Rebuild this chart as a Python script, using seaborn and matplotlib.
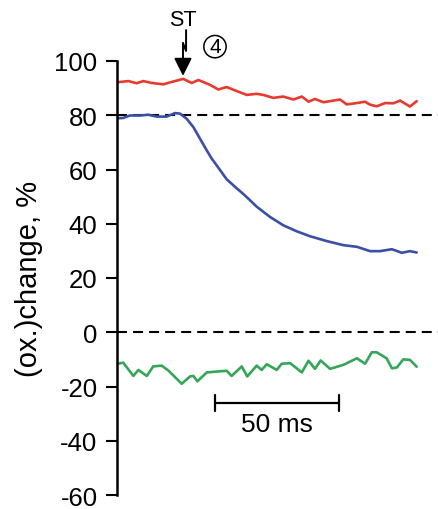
import numpy as np
import pandas as pd
import matplotlib
matplotlib.use("Agg")
import matplotlib.pyplot as plt
import seaborn as sns

# --- data (time in ms, value in %) ---
red_time = [0.5, 4.6, 7.9, 10.6, 14.0, 18.7, 22.1, 26.7, 30.1, 32.8, 37.5, 40.8,
            44.2, 48.3, 52.3, 56.3, 59.0, 63.0, 67.0, 71.1, 74.5, 77.2, 79.8, 83.2,
            89.9, 92.6, 96.7, 100.0, 102.0, 104.7, 108.1, 111.4, 114.1, 118.1, 120.8]
red_value = [92.2, 92.6, 91.8, 92.6, 91.9, 91.4, 92.3, 93.4, 91.9, 93.0, 91.2, 89.5,
             90.4, 88.9, 87.5, 87.9, 87.5, 86.4, 86.9, 85.8, 86.9, 85.0, 86.0, 84.8,
             85.8, 84.0, 84.5, 85.0, 83.9, 83.3, 84.5, 84.4, 85.4, 83.2, 85.2]

blue_time = [0.5, 2.5, 5.2, 9.3, 12.6, 16.0, 20.0, 23.4, 25.4, 28.1, 30.8, 33.5,
             36.2, 38.2, 40.2, 44.2, 47.6, 51.0, 53.0, 56.3, 61.7, 67.1, 72.5, 77.8,
             84.6, 91.3, 96.7, 102.0, 106.0, 110.8, 114.8, 118.1, 120.8]
blue_value = [78.9, 79.0, 79.9, 79.9, 80.2, 79.5, 79.5, 80.8, 80.6, 78.7, 75.6, 71.3,
              67.0, 64.0, 61.5, 56.4, 53.6, 50.9, 49.2, 46.3, 42.5, 39.4, 37.2, 35.4,
              33.6, 32.1, 31.5, 29.9, 29.9, 30.6, 29.3, 29.9, 29.4]

green_time = [0.5, 2.5, 6.6, 8.6, 12.0, 14.6, 18.0, 20.7, 26.1, 29.4, 30.8, 32.4,
              36.2, 44.2, 46.2, 50.3, 52.5, 56.3, 58.3, 60.4, 64.4, 66.4, 69.8, 74.5,
              77.2, 79.8, 82.1, 85.9, 91.3, 96.7, 100.0, 102.7, 104.7, 108.7, 110.8,
              112.8, 115.4, 118.1, 120.8]
green_value = [-11.6, -11.2, -16.1, -13.9, -16.1, -12.6, -12.3, -14.1, -19.0, -16.3,
               -16.1, -18.1, -14.8, -14.2, -16.1, -12.6, -16.3, -12.3, -13.9, -11.8,
               -13.9, -11.6, -11.4, -14.8, -10.5, -13.5, -10.4, -13.5, -12.0, -9.6,
               -11.6, -7.4, -7.4, -9.6, -13.3, -13.0, -10.0, -10.2, -12.7]

ref_levels = [80, 0]
y_ticks = [-60, -40, -20, 0, 20, 40, 60, 80, 100]
stim_time = 26.6
scale_start = 39.5
scale_len = 50

colors = {"red": "#e63b2e", "blue": "#3c4fa6", "green": "#35a559"}

sns.set_theme(style="ticks")
plt.rcParams["font.family"] = ["Liberation Sans", "DejaVu Sans"]
plt.rcParams["axes.unicode_minus"] = False
plt.rcParams["text.color"] = "black"
plt.rcParams["ytick.color"] = "black"
plt.rcParams["ytick.labelcolor"] = "black"
plt.rcParams["axes.labelcolor"] = "black"

df = pd.concat([
    pd.DataFrame({"t": red_time, "v": red_value, "trace": "red"}),
    pd.DataFrame({"t": blue_time, "v": blue_value, "trace": "blue"}),
    pd.DataFrame({"t": green_time, "v": green_value, "trace": "green"}),
])

fig = plt.figure(figsize=(4.38, 5.10), dpi=100)
ax = fig.add_axes([117 / 438, 14 / 510, 321 / 438, 434 / 510])

for lvl in ref_levels:
    ax.axhline(lvl, color="black", lw=1.5, ls=(0, (4.8, 2.9)), zorder=1)

sns.lineplot(data=df, x="t", y="v", hue="trace", palette=colors, lw=1.9,
             legend=False, ax=ax, zorder=2)

ax.set_xlim(0, 129.4)
ax.set_ylim(-60, 100)
ax.set_yticks(y_ticks)
ax.tick_params(axis="y", labelsize=18.5, length=8, width=1.5, pad=6,
               color="black", labelcolor="black")
ax.set_xticks([])
ax.set_xlabel("")
ax.set_ylabel("(ox.)change, %", fontsize=21, color="black")
ax.yaxis.set_label_coords(-0.23, 0.5)
for s in ["top", "right", "bottom"]:
    ax.spines[s].set_visible(False)
ax.spines["left"].set_linewidth(1.8)
ax.spines["left"].set_color("black")

# stimulus marker: lightning-broken arrow
dx = 1.25
ax.plot([stim_time + dx, stim_time + dx, stim_time], [111.4, 103.7, 106.6],
        color="black", lw=1.4, clip_on=False)
ax.annotate("", xy=(stim_time, 94.5), xytext=(stim_time, 106.6),
            arrowprops=dict(arrowstyle="-|>,head_length=0.9,head_width=0.45",
                            color="black", lw=1.4, shrinkA=0, shrinkB=0),
            annotation_clip=False)
ax.text(stim_time - 0.2, 115.2, "ST", fontsize=15.5, ha="center", va="center",
        clip_on=False)
ax.text(39.5, 105.3, "4", fontsize=15, ha="center", va="center", clip_on=False,
        bbox=dict(boxstyle="circle,pad=0.08", fc="none", ec="black", lw=1.1))

# time scale bar
ax.plot([scale_start, scale_start + scale_len], [-26.1, -26.1], color="black", lw=1.6)
for xe in [scale_start, scale_start + scale_len]:
    ax.plot([xe, xe], [-23.2, -29.2], color="black", lw=1.6)
ax.text(scale_start + scale_len / 2, -34.0, f"{scale_len} ms", fontsize=19,
        ha="center", va="center")

fig.savefig("out.png", dpi=100)
